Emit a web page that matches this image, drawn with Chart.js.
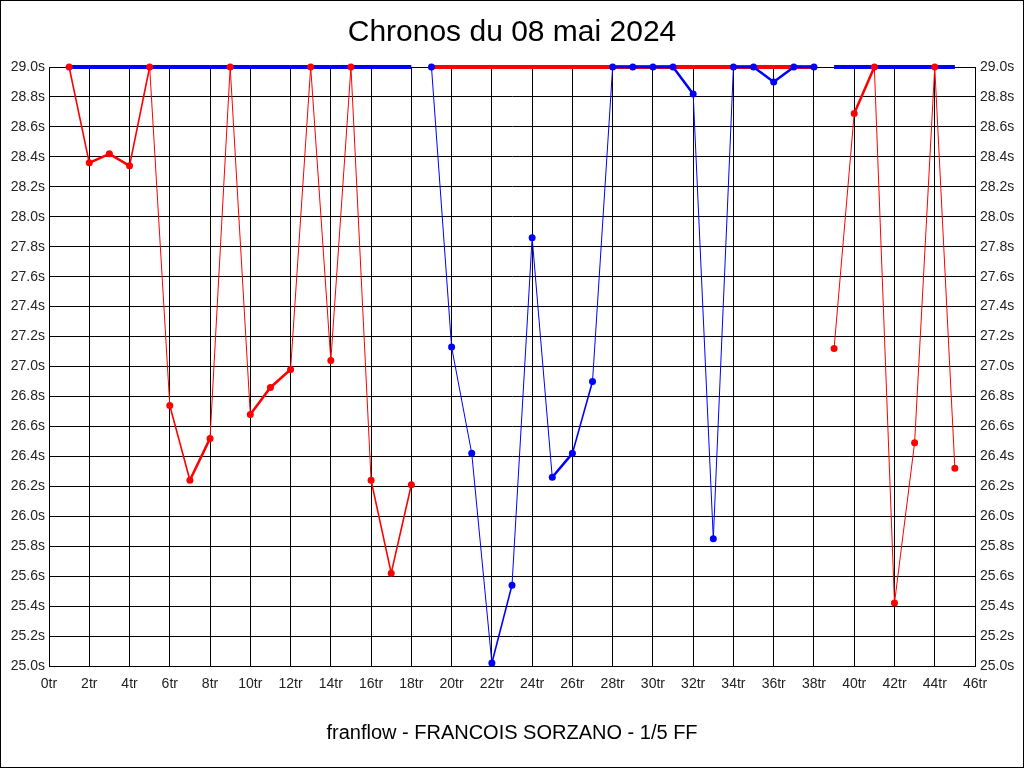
<!DOCTYPE html>
<html>
<head>
<meta charset="utf-8">
<script src="https://cdn.jsdelivr.net/npm/chart.js@4/dist/chart.umd.min.js"></script>
<style>
  html, body { margin: 0; padding: 0; background: #fff; }
  #wrap { width: 1024px; height: 768px; }
</style>
</head>
<body>
<div id="wrap"><canvas id="chronos"></canvas></div>
<script>
// Lap times (s), clipped at 29.0 on the chart
const lapsRed1 = [1, 2, 3, 4, 5, 6, 7, 8, 9, 10, 11, 12, 13, 14, 15, 16, 17, 18];
const timesRed1 = [29.0, 28.36, 28.42, 28.34, 29.0, 26.74, 26.24, 26.52, 29.0, 26.68, 26.86, 26.98, 29.0, 27.04, 29.0, 26.24, 25.62, 26.21];

const lapsBlue = [19, 20, 21, 22, 23, 24, 25, 26, 27, 28, 29, 30, 31, 32, 33, 34, 35, 36, 37, 38];
const timesBlue = [29.0, 27.13, 26.42, 25.02, 25.54, 27.86, 26.26, 26.42, 26.90, 29.0, 29.0, 29.0, 29.0, 28.82, 25.85, 29.0, 29.0, 28.90, 29.0, 29.0];

const lapsRed2 = [39, 40, 41, 42, 43, 44, 45];
const timesRed2 = [27.12, 28.69, 29.0, 25.42, 26.49, 29.0, 26.32];

// thick bars along the 29.0 ceiling (start lap, end lap)
const capBlue1 = [1, 18];
const capRed = [19, 38];
const capBlue2 = [39, 45];
const capValue = 29.0;

const RED = '#ff0000';
const BLUE = '#0000ff';

function pts(laps, times) {
  return laps.map((l, i) => ({ x: l, y: times[i] }));
}
function cap(range) {
  return range.map(l => ({ x: l, y: capValue }));
}

// steep segments look thin in the original, shallow ones thick
function segWidth(c) {
  const dx = Math.abs(c.p1.x - c.p0.x) || 1;
  const slope = Math.abs(c.p1.y - c.p0.y) / dx;
  if (slope > 5) return 1;
  if (slope > 2.5) return 1.6;
  return 2.5;
}

function series(label, data, color) {
  return {
    label: label,
    data: data,
    borderColor: color,
    backgroundColor: color,
    pointRadius: 3.5,
    pointBorderWidth: 0,
    pointBackgroundColor: color,
    borderWidth: 2,
    tension: 0,
    order: 1,
    clip: false,
    segment: { borderWidth: segWidth }
  };
}
function capLine(data, color) {
  return {
    label: 'cap',
    data: data,
    borderColor: color,
    borderWidth: 4,
    pointRadius: 0,
    order: 2,
    clip: false
  };
}

const frame = {
  id: 'frame',
  beforeDraw(chart) {
    const c = chart.ctx;
    c.save();
    c.fillStyle = '#fff';
    c.fillRect(0, 0, chart.width, chart.height);
    c.restore();
  },
  afterDraw(chart) {
    const c = chart.ctx;
    c.save();
    c.strokeStyle = '#000';
    c.lineWidth = 1;
    c.strokeRect(0.5, 0.5, chart.width - 1, chart.height - 1);
    c.restore();
  }
};

const tickFont = { family: 'Arial, "Liberation Sans", sans-serif', size: 14 };

new Chart(document.getElementById('chronos'), {
  type: 'line',
  data: {
    datasets: [
      series('Red 1', pts(lapsRed1, timesRed1), RED),
      series('Blue', pts(lapsBlue, timesBlue), BLUE),
      series('Red 2', pts(lapsRed2, timesRed2), RED),
      capLine(cap(capBlue1), BLUE),
      capLine(cap(capRed), RED),
      capLine(cap(capBlue2), BLUE)
    ]
  },
  options: {
    responsive: true,
    maintainAspectRatio: false,
    animation: false,
    layout: { padding: 0 },
    plugins: {
      legend: { display: false },
      tooltip: { enabled: false },
      title: {
        display: true,
        text: 'Chronos du 08 mai 2024',
        color: '#000',
        font: { family: 'Arial, "Liberation Sans", sans-serif', size: 30, weight: 'normal' },
        padding: { top: 15, bottom: 16 }
      },
      subtitle: {
        display: true,
        position: 'bottom',
        text: 'franflow - FRANCOIS SORZANO - 1/5 FF',
        color: '#000',
        font: { family: 'Arial, "Liberation Sans", sans-serif', size: 20, weight: 'normal' },
        padding: { top: 15, bottom: 23 }
      }
    },
    scales: {
      x: {
        type: 'linear',
        min: 0,
        max: 46,
        afterFit: s => { s.height = 40; },
        grid: { color: '#000', drawTicks: false },
        border: { color: '#000' },
        ticks: {
          stepSize: 2,
          padding: 10,
          color: '#222',
          font: tickFont,
          maxRotation: 0,
          autoSkip: false,
          callback: v => v + 'tr'
        }
      },
      y: {
        position: 'left',
        min: 25,
        max: 29,
        afterFit: s => { s.width = 49; },
        grid: { color: '#000', drawTicks: false },
        border: { color: '#000' },
        ticks: {
          stepSize: 0.2,
          padding: 4,
          color: '#222',
          font: tickFont,
          autoSkip: false,
          callback: v => Number(v).toFixed(1) + 's'
        }
      },
      y2: {
        position: 'right',
        min: 25,
        max: 29,
        afterFit: s => { s.width = 49; },
        grid: { drawOnChartArea: false, drawTicks: false },
        border: { color: '#000' },
        ticks: {
          stepSize: 0.2,
          padding: 5,
          color: '#222',
          font: tickFont,
          autoSkip: false,
          callback: v => Number(v).toFixed(1) + 's'
        }
      }
    }
  },
  plugins: [frame]
});
</script>
</body>
</html>
